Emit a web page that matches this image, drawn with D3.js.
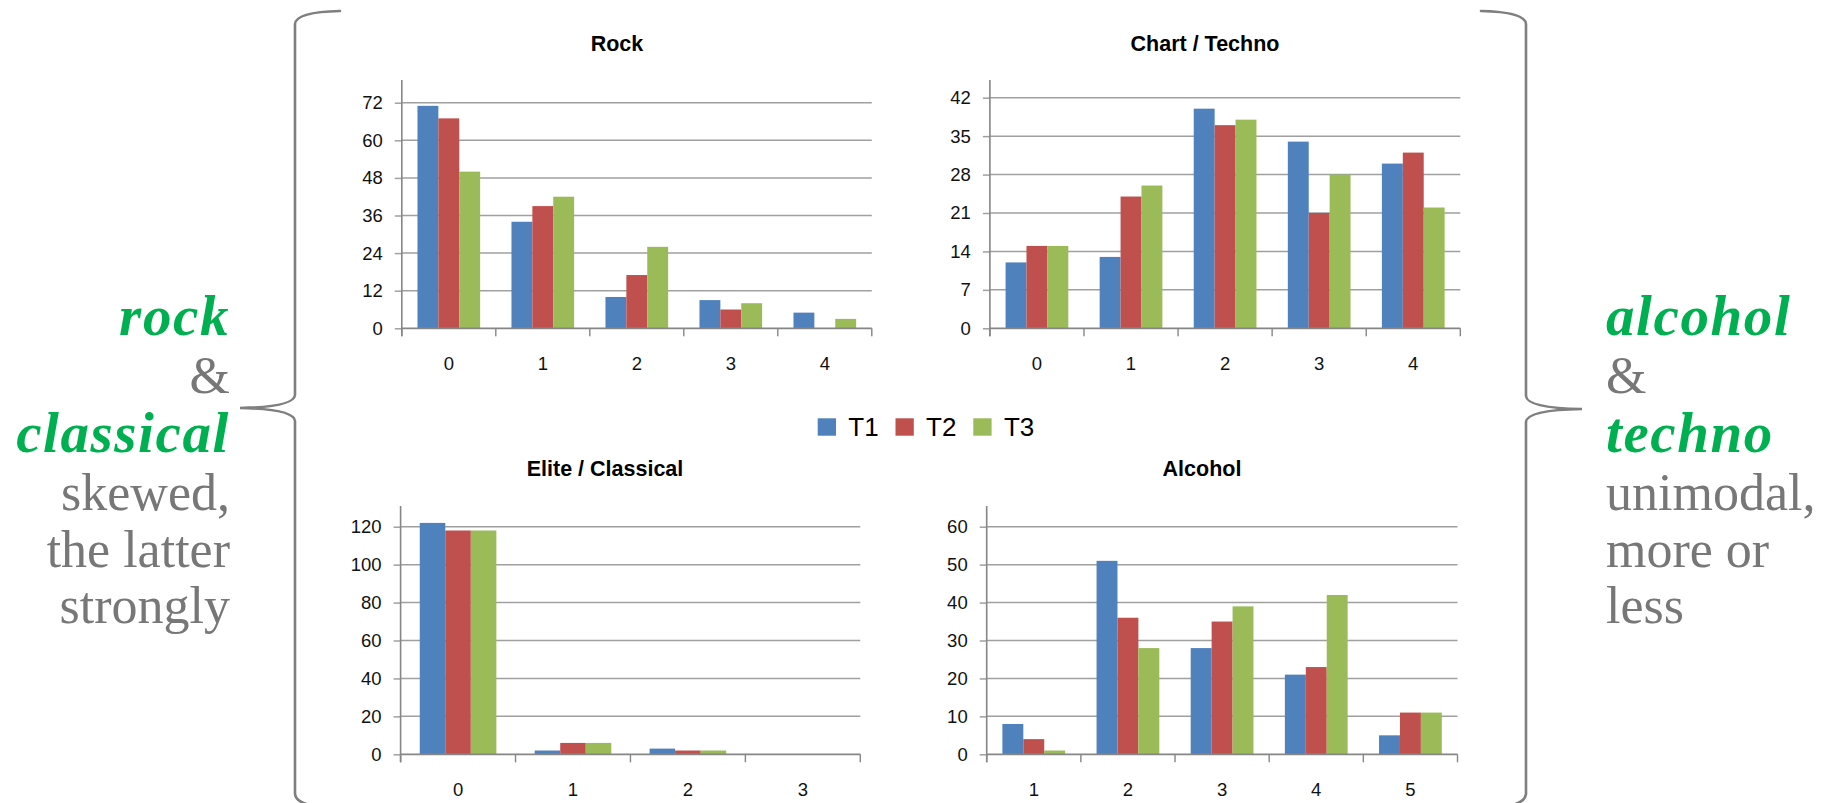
<!DOCTYPE html>
<html>
<head>
<meta charset="utf-8">
<script src="https://cdn.jsdelivr.net/npm/d3@7"></script>
<style>
  html, body { margin: 0; padding: 0; background: #fff; }
  svg { display: block; }
</style>
</head>
<body>
<svg id="fig" width="1833" height="803"></svg>
<script>
// ---- data ----
const seriesNames = ["T1", "T2", "T3"];
const seriesColors = ["#4F81BD", "#C0504D", "#9BBB59"];

const rockCats = ["0", "1", "2", "3", "4"];
const rockT1 = [71, 34, 10, 9, 5];
const rockT2 = [67, 39, 17, 6, 0];
const rockT3 = [50, 42, 26, 8, 3];
const rockTicks = [0, 12, 24, 36, 48, 60, 72];

const technoCats = ["0", "1", "2", "3", "4"];
const technoT1 = [12, 13, 40, 34, 30];
const technoT2 = [15, 24, 37, 21, 32];
const technoT3 = [15, 26, 38, 28, 22];
const technoTicks = [0, 7, 14, 21, 28, 35, 42];

const eliteCats = ["0", "1", "2", "3"];
const eliteT1 = [122, 2, 3, 0];
const eliteT2 = [118, 6, 2, 0];
const eliteT3 = [118, 6, 2, 0];
const eliteTicks = [0, 20, 40, 60, 80, 100, 120];

const alcoholCats = ["1", "2", "3", "4", "5"];
const alcoholT1 = [8, 51, 28, 21, 5];
const alcoholT2 = [4, 36, 35, 23, 11];
const alcoholT3 = [1, 28, 39, 42, 11];
const alcoholTicks = [0, 10, 20, 30, 40, 50, 60];

const leftNote = [
  { text: "rock", em: true }, { text: "&", em: false },
  { text: "classical", em: true }, { text: "skewed,", em: false },
  { text: "the latter", em: false }, { text: "strongly", em: false }
];
const rightNote = [
  { text: "alcohol", em: true }, { text: "&", em: false },
  { text: "techno", em: true }, { text: "unimodal,", em: false },
  { text: "more or", em: false }, { text: "less", em: false }
];

// ---- layout ----
const panels = [
  { title: "Rock", cats: rockCats, series: [rockT1, rockT2, rockT3], ticks: rockTicks,
    x0: 401.8, x1: 871.8, yBase: 328.3, yTopTick: 102.7, axisTop: 80, titleX: 617, titleY: 50.5, labelY: 369.5 },
  { title: "Chart / Techno", cats: technoCats, series: [technoT1, technoT2, technoT3], ticks: technoTicks,
    x0: 989.9, x1: 1460.3, yBase: 328.3, yTopTick: 97.7, axisTop: 80, titleX: 1205, titleY: 50.5, labelY: 369.5 },
  { title: "Elite / Classical", cats: eliteCats, series: [eliteT1, eliteT2, eliteT3], ticks: eliteTicks,
    x0: 400.6, x1: 860.3, yBase: 754.3, yTopTick: 526.7, axisTop: 506, titleX: 605, titleY: 476, labelY: 796 },
  { title: "Alcohol", cats: alcoholCats, series: [alcoholT1, alcoholT2, alcoholT3], ticks: alcoholTicks,
    x0: 986.7, x1: 1457.5, yBase: 754.3, yTopTick: 526.7, axisTop: 506, titleX: 1202, titleY: 476, labelY: 796 }
];

const chartFont = "'Liberation Sans', Arial, sans-serif";
const serifFont = "'Liberation Serif', 'DejaVu Serif', serif";
const gridColor = "#a0a0a0";
const axisColor = "#868686";

const svg = d3.select("#fig");

panels.forEach(p => {
  const g = svg.append("g");
  const topVal = p.ticks[p.ticks.length - 1];
  const y = d3.scaleLinear().domain([0, topVal]).range([p.yBase, p.yTopTick]);
  const x = d3.scaleBand().domain(p.cats).range([p.x0, p.x1]).padding(0);
  // gap width of 150%: the three bars fill the middle 2/3 of each category slot
  const inner = d3.scaleBand().domain(seriesNames)
    .range([x.bandwidth() / 6, x.bandwidth() * 5 / 6]).padding(0);

  // gridlines
  g.append("g").selectAll("line").data(p.ticks.filter(t => t > 0)).join("line")
    .attr("x1", p.x0).attr("x2", p.x1)
    .attr("y1", d => y(d)).attr("y2", d => y(d))
    .attr("stroke", gridColor).attr("stroke-width", 1.5);

  // bars
  const rows = [];
  p.cats.forEach((c, i) => seriesNames.forEach((s, j) => rows.push({ c, s, j, v: p.series[j][i] })));
  g.append("g").selectAll("rect").data(rows.filter(r => r.v > 0)).join("rect")
    .attr("x", d => x(d.c) + inner(d.s))
    .attr("width", inner.bandwidth())
    .attr("y", d => y(d.v))
    .attr("height", d => y(0) - y(d.v))
    .attr("fill", d => seriesColors[d.j]);

  // y axis
  const yAxis = g.append("g").attr("transform", `translate(${p.x0},0)`)
    .call(d3.axisLeft(y).tickValues(p.ticks).tickSize(7).tickPadding(12).tickSizeOuter(0));
  yAxis.select(".domain").remove();
  yAxis.selectAll(".tick line").attr("stroke", gridColor).attr("stroke-width", 1.5);
  yAxis.selectAll(".tick text").attr("font-family", chartFont).attr("font-size", 18.5)
    .attr("fill", "#111");
  g.append("line").attr("x1", p.x0).attr("x2", p.x0)
    .attr("y1", p.axisTop).attr("y2", p.yBase + 8)
    .attr("stroke", axisColor).attr("stroke-width", 1.6);

  // x axis
  g.append("line").attr("x1", p.x0).attr("x2", p.x1)
    .attr("y1", p.yBase).attr("y2", p.yBase)
    .attr("stroke", axisColor).attr("stroke-width", 1.8);
  const bounds = p.cats.map(c => x(c)).concat([p.x1]);
  g.append("g").selectAll("line").data(bounds).join("line")
    .attr("x1", d => d).attr("x2", d => d)
    .attr("y1", p.yBase).attr("y2", p.yBase + 8)
    .attr("stroke", axisColor).attr("stroke-width", 1.4);
  g.append("g").selectAll("text").data(p.cats).join("text")
    .attr("x", d => x(d) + x.bandwidth() / 2)
    .attr("y", p.labelY)
    .attr("text-anchor", "middle")
    .attr("font-family", chartFont).attr("font-size", 18.5).attr("fill", "#111")
    .text(d => d);

  // title
  g.append("text").attr("x", p.titleX).attr("y", p.titleY)
    .attr("text-anchor", "middle")
    .attr("font-family", chartFont).attr("font-weight", "bold").attr("font-size", 21.5)
    .attr("fill", "#000")
    .text(p.title);
});

// legend
const legend = svg.append("g");
seriesNames.forEach((s, i) => {
  const lx = 817.7 + i * 77.8;
  legend.append("rect").attr("x", lx).attr("y", 418.3).attr("width", 18.3).attr("height", 17.4)
    .attr("fill", seriesColors[i]);
  legend.append("text").attr("x", lx + 30.6).attr("y", 435.5)
    .attr("font-family", chartFont).attr("font-size", 26).attr("fill", "#000")
    .text(s);
});

// braces
const braceStyle = sel => sel.attr("fill", "none").attr("stroke", "#7f7f7f")
  .attr("stroke-width", 2.6).attr("stroke-linecap", "round");
svg.append("path")
  .attr("d", "M340,11 Q296,12 295,24 L295,395 Q294,407 240,408 Q294,409 295,421 L295,794 Q296,802 310,805")
  .call(braceStyle);
svg.append("path")
  .attr("d", "M1481,11 Q1525,12 1526,24 L1526,396 Q1527,408 1582,409 Q1527,410 1526,422 L1526,794 Q1525,802 1512,805")
  .call(braceStyle);

// side notes: emphasised words in bold italic green, the rest in grey
const baselines = [335, 393, 452, 510, 567, 623];
function note(lines, xPos, anchor) {
  svg.append("g").selectAll("text").data(lines).join("text")
    .attr("x", xPos)
    .attr("y", (d, i) => baselines[i])
    .attr("text-anchor", anchor)
    .attr("font-family", serifFont)
    .attr("font-size", d => d.em ? 57 : 52)
    .attr("letter-spacing", d => d.em ? 1.6 : 0)
    .attr("font-weight", d => d.em ? "bold" : "normal")
    .attr("font-style", d => d.em ? "italic" : "normal")
    .attr("fill", d => d.em ? "#00B050" : "#777777")
    .text(d => d.text);
}
note(leftNote, 230, "end");
note(rightNote, 1606, "start");
</script>
</body>
</html>
